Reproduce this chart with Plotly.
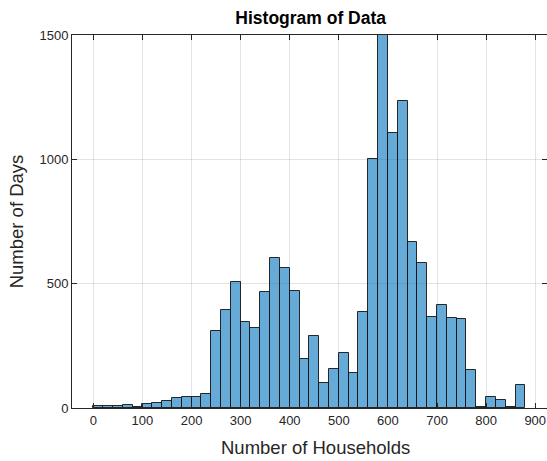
import plotly.graph_objects as go

# Histogram counts per 20-household bin, starting at 0
bin_width = 20
bin_starts = list(range(0, 880, 20))
counts = [8, 8, 7, 11, 3, 16, 21, 29, 41, 43,
          44, 57, 311, 395, 506, 347, 320, 465, 604, 565,
          472, 196, 291, 99, 156, 220, 140, 388, 1001, 1500,
          1105, 1235, 669, 584, 365, 416, 363, 357, 153, 3,
          46, 31, 6, 91]

x_ticks = [0, 100, 200, 300, 400, 500, 600, 700, 800, 900]
y_ticks = [0, 500, 1000, 1500]

centers = [s + bin_width / 2 for s in bin_starts]

fig = go.Figure(
    go.Bar(
        x=centers,
        y=counts,
        width=[bin_width] * len(counts),
        marker=dict(color="rgba(0,114,189,0.6)",
                    line=dict(color="rgba(20,20,20,0.9)", width=1)),
        hoverinfo="x+y",
    )
)

font_family = "Liberation Sans, Arial, sans-serif"
axis_color = "#262626"
grid_color = "rgba(38,38,38,0.13)"

fig.update_layout(
    width=547, height=461,
    margin=dict(l=72, r=0, t=35, b=53),
    paper_bgcolor="white", plot_bgcolor="white",
    showlegend=False, bargap=0,
    font=dict(family=font_family, color=axis_color, size=13),
    title=dict(text="<b>Histogram of Data</b>", x=0.568, xanchor="center",
               y=1 - 18 / 461, yanchor="middle",
               font=dict(size=17.5, color="black", family=font_family)),
    annotations=[
        dict(text="Number of Households", xref="paper", yref="paper",
             x=0.512, y=-0.105, xanchor="center", yanchor="middle",
             showarrow=False, font=dict(size=18.5, color=axis_color)),
    ],
)

fig.update_xaxes(
    range=[-43.5, 924], tickvals=x_ticks, ticktext=[str(v) for v in x_ticks],
    showgrid=True, gridcolor=grid_color, gridwidth=1, zeroline=False,
    showline=True, linecolor=axis_color, linewidth=1, mirror="ticks",
    ticks="inside", ticklen=5, tickcolor=axis_color,
    tickfont=dict(size=13, color=axis_color),
)
fig.update_yaxes(
    range=[0, 1500], tickvals=y_ticks, ticktext=[str(v) for v in y_ticks],
    showgrid=True, gridcolor=grid_color, gridwidth=1, zeroline=False,
    showline=True, linecolor=axis_color, linewidth=1, mirror="ticks",
    ticks="inside", ticklen=5, tickcolor=axis_color,
    tickfont=dict(size=13, color=axis_color),
    title=dict(text="Number of Days", font=dict(size=18.5, color=axis_color),
               standoff=11),
)

fig.write_html("out.html")
